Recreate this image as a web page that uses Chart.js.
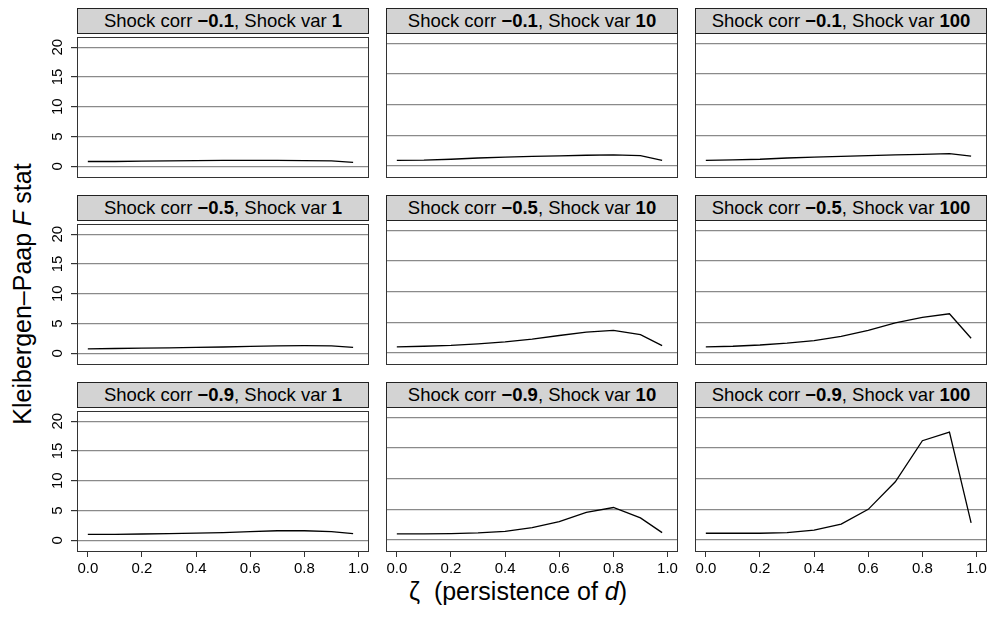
<!DOCTYPE html>
<html lang="en">
<head>
<meta charset="UTF-8">
<title>Kleibergen-Paap F stat by persistence</title>
<script src="https://cdn.jsdelivr.net/npm/chart.js"></script>
<style>
  body { margin: 0; background: #fff; font-family: "Liberation Sans", Arial, sans-serif; }
  #wrap { position: relative; width: 992px; height: 618px; overflow: hidden; }
  canvas { position: absolute; }
  .strip {
    position: absolute; box-sizing: border-box; height: 26px;
    border: 1px solid #222; background: #d3d3d3; color: #000;
    text-align: center; font-size: 18.5px; line-height: 24px; white-space: nowrap;
  }
  .ytitle {
    position: absolute; width: 400px; height: 30px; line-height: 30px;
    left: -178px; top: 279px; text-align: center; font-size: 25px;
    transform: rotate(-90deg); white-space: nowrap;
  }
  .xtitle {
    position: absolute; left: 0; width: 1036px; top: 576px; height: 30px;
    line-height: 30px; text-align: center; font-size: 25px; white-space: nowrap;
  }
</style>
</head>
<body>
<div id="wrap">
  <div class="ytitle">Kleibergen–Paap <i>F</i> stat</div>
  <div class="xtitle">ζ&nbsp;&nbsp;(persistence of <i>d</i>)</div>
</div>

<script>
  // persistence values on the x axis
  var zeta = [0, 0.1, 0.2, 0.3, 0.4, 0.5, 0.6, 0.7, 0.8, 0.9, 0.98];

  // panel labels
  var corrLabels = ['−0.1', '−0.5', '−0.9'];
  var varLabels = ['1', '10', '100'];

  // KP F stat, shock corr -0.1
  var kp_c01_v1 = [0.8, 0.8, 0.85, 0.9, 0.95, 1.0, 1.0, 1.0, 0.95, 0.9, 0.65];
  var kp_c01_v10 = [0.9, 0.95, 1.1, 1.3, 1.45, 1.55, 1.65, 1.75, 1.8, 1.7, 0.9];
  var kp_c01_v100 = [0.9, 1.0, 1.1, 1.3, 1.45, 1.55, 1.7, 1.8, 1.9, 2.0, 1.6];

  // shock corr -0.5
  var kp_c05_v1 = [0.75, 0.8, 0.85, 0.9, 1.0, 1.05, 1.15, 1.25, 1.3, 1.25, 1.0];
  var kp_c05_v10 = [1.0, 1.1, 1.25, 1.5, 1.8, 2.25, 2.85, 3.4, 3.7, 3.0, 1.2];
  var kp_c05_v100 = [1.0, 1.1, 1.3, 1.6, 2.0, 2.7, 3.7, 4.9, 5.8, 6.4, 2.4];

  // shock corr -0.9
  var kp_c09_v1 = [1.0, 1.0, 1.05, 1.1, 1.2, 1.3, 1.45, 1.6, 1.6, 1.45, 1.1];
  var kp_c09_v10 = [1.0, 1.0, 1.05, 1.15, 1.4, 2.0, 3.0, 4.5, 5.3, 3.6, 1.2];
  var kp_c09_v100 = [1.1, 1.1, 1.1, 1.2, 1.6, 2.6, 5.0, 9.5, 16.2, 17.6, 2.8];

  var panels = [
    [kp_c01_v1, kp_c01_v10, kp_c01_v100],
    [kp_c05_v1, kp_c05_v10, kp_c05_v100],
    [kp_c09_v1, kp_c09_v10, kp_c09_v100]
  ];

  var yTicks = [0, 5, 10, 15, 20];
  var xTicks = [0, 0.2, 0.4, 0.6, 0.8, 1.0];
  var xTickLabels = ['0.0', '0.2', '0.4', '0.6', '0.8', '1.0'];

  // layout of the grid
  var PLOT_W = 291, PLOT_H = 144, STRIP_H = 25;
  var colLeft = [77, 386, 695];
  var plotTop = [33, 220, 407];
  var ML = 45, MR = 15, MT = 10, MB = 30;

  // box around every panel
  var panelBox = {
    id: 'panelBox',
    afterDraw: function (chart) {
      var a = chart.chartArea, ctx = chart.ctx;
      ctx.save();
      ctx.strokeStyle = '#333';
      ctx.lineWidth = 1;
      ctx.strokeRect(Math.round(a.left) + 0.5, Math.round(a.top) + 0.5,
        Math.round(a.right - a.left), Math.round(a.bottom - a.top));
      ctx.restore();
    }
  };

  var wrap = document.getElementById('wrap');

  for (var r = 0; r < 3; r++) {
    for (var c = 0; c < 3; c++) {
      var firstCol = c === 0, lastRow = r === 2;

      var cv = document.createElement('canvas');
      cv.width = ML + PLOT_W + MR;
      cv.height = MT + PLOT_H + MB;
      cv.style.left = (colLeft[c] - ML) + 'px';
      cv.style.top = (plotTop[r] - MT) + 'px';
      wrap.appendChild(cv);

      var strip = document.createElement('div');
      strip.className = 'strip';
      strip.style.left = colLeft[c] + 'px';
      strip.style.top = (plotTop[r] - STRIP_H) + 'px';
      strip.style.width = (PLOT_W + 1) + 'px';
      strip.innerHTML = 'Shock corr <b>' + corrLabels[r] + '</b>, Shock var <b>' + varLabels[c] + '</b>';
      wrap.appendChild(strip);

      var pts = panels[r][c].map(function (v, i) { return { x: zeta[i], y: v }; });

      new Chart(cv.getContext('2d'), {
        type: 'line',
        data: {
          datasets: [{
            data: pts,
            borderColor: '#000',
            borderWidth: 1.3,
            pointRadius: 0,
            tension: 0,
            fill: false
          }]
        },
        options: {
          responsive: false,
          animation: false,
          devicePixelRatio: 1,
          layout: { padding: { top: MT, right: MR, left: 0, bottom: 0 } },
          plugins: { legend: { display: false }, tooltip: { enabled: false } },
          scales: {
            x: {
              type: 'linear',
              min: -0.04,
              max: 1.035,
              afterBuildTicks: function (s) { s.ticks = xTicks.map(function (v) { return { value: v }; }); },
              afterFit: function (s) { s.height = MB; },
              border: { display: false },
              grid: {
                display: lastRow,
                drawOnChartArea: false,
                drawTicks: true,
                tickLength: 6,
                tickColor: '#333'
              },
              ticks: {
                display: lastRow,
                padding: 3,
                maxRotation: 0,
                color: '#000',
                font: { family: 'Liberation Sans', size: 15 },
                callback: function (v) { return xTickLabels[xTicks.indexOf(v)]; }
              }
            },
            y: {
              min: -1.8,
              max: 21.7,
              afterBuildTicks: function (s) { s.ticks = yTicks.map(function (v) { return { value: v }; }); },
              afterFit: function (s) { s.width = ML; },
              border: { display: false },
              grid: {
                color: '#8a8a8a',
                lineWidth: 1.2,
                drawTicks: firstCol,
                tickLength: 6,
                tickColor: '#333'
              },
              ticks: {
                display: firstCol,
                minRotation: 90,
                maxRotation: 90,
                crossAlign: 'center',
                padding: 5,
                color: '#000',
                font: { family: 'Liberation Sans', size: 15 }
              }
            }
          }
        },
        plugins: [panelBox]
      });
    }
  }
</script>
</body>
</html>
